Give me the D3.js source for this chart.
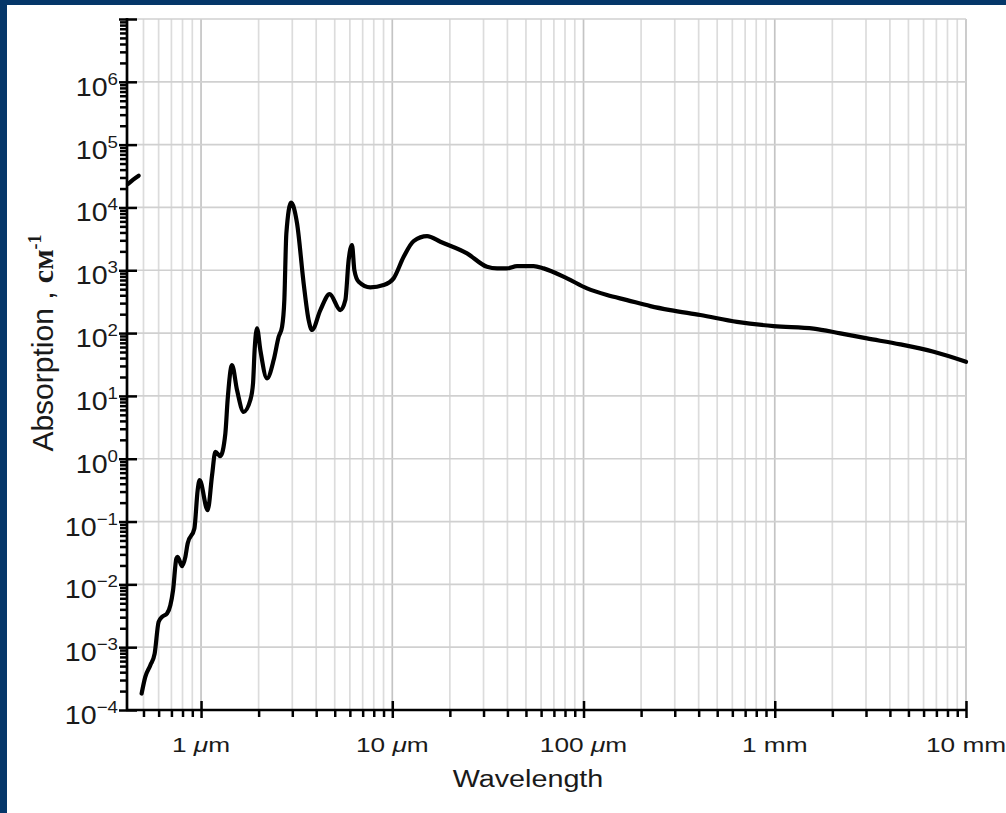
<!DOCTYPE html>
<html>
<head>
<meta charset="utf-8">
<script src="https://cdn.jsdelivr.net/npm/d3@7"></script>
<style>
  html, body { margin: 0; padding: 0; background: #fff; }
  svg { display: block; }
  text { font-family: "Liberation Sans", Arial, sans-serif; fill: #1a1a1a; }
</style>
</head>
<body>
<svg id="chart" width="1006" height="813"></svg>
<script>
// ---- data (wavelength in micrometres, absorption in cm^-1) ----
const wavelength = [0.489,0.511,0.543,0.572,0.600,0.625,0.664,0.691,0.714,0.743,0.754,0.796,0.828,0.851,0.923,0.960,0.983,1.083,1.142,1.188,1.261,1.340,1.377,1.452,1.542,1.670,1.810,1.870,1.906,1.962,2.042,2.213,2.397,2.546,2.652,2.726,2.793,2.956,3.177,3.440,3.653,3.805,4.206,4.704,5.351,5.683,5.913,6.159,6.334,6.671,7.677,9.010,10.16,11.47,12.93,15.20,17.84,24.59,31.29,35.30,39.81,44.91,54.83,61.85,82.0,104.3,132.7,168.9,223.6,284.4,408,635,986,1596,2202,3037,4535,6771,10000];
const absorption = [1.83e-4,3.37e-4,5.16e-4,7.9e-4,2.53e-3,3.03e-3,3.44e-3,4.67e-3,8.1e-3,2.58e-2,2.74e-2,1.95e-2,2.74e-2,4.48e-2,7.76e-2,0.316,0.456,0.152,0.548,1.29,1.10,2.53,8.6,31,12.4,5.58,8.6,15.8,53.6,119,53.6,19.0,37.2,87.3,126,335,3870,11900,5580,618,161,112,232,418,232,335,1452,2518,1007,656,534,581,743,1640,2917,3506,2845,1858,1137,1072,1072,1166,1166,1072,743,515,403,335,269,232,194,151,129,118,98.9,82.3,66.1,50.4,35];
// short UV edge segment at the far left
const uvWavelength = [0.415, 0.44, 0.472];
const uvAbsorption = [2.36e4, 2.75e4, 3.2e4];

const xMajorTicks = [1, 10, 100, 1000, 10000];
const xTickLabels = [["1 ", "\u03bc", "m"], ["10 ", "\u03bc", "m"], ["100 ", "\u03bc", "m"], ["1 mm", "", ""], ["10 mm", "", ""]];
const yExponents = [-4, -3, -2, -1, 0, 1, 2, 3, 4, 5, 6];
const yAxisTitle = "Absorption , ";
const yAxisUnit = "\u0441\u043c";
const xAxisTitle = "Wavelength";

// ---- layout ----
const svg = d3.select("#chart");
const W = 1006, H = 813;
const x = d3.scaleLog().domain([0.41, 10000]).range([127, 966]);
const y = d3.scaleLog().domain([1e-4, 1e7]).range([710, 19]);
const SX = 1.25; // horizontal stretch of the x lettering

svg.append("rect").attr("width", W).attr("height", H).attr("fill", "#053769");
svg.append("rect").attr("x", 7).attr("y", 5).attr("width", W - 7).attr("height", H - 5).attr("fill", "#fff");

// grid values
const xGrid = [];
for (let e = -1; e <= 4; e++) for (let m = 1; m <= 9; m++) {
  const v = m * Math.pow(10, e);
  if (v >= 0.45 && v <= 10000.5) xGrid.push(v);
}
const xMinor = xGrid.filter(v => !xMajorTicks.includes(v));
const yDecades = d3.range(-4, 8).map(e => Math.pow(10, e));
const yMinor = [];
for (let e = -4; e < 7; e++) for (let m = 2; m <= 9; m++) yMinor.push(m * Math.pow(10, e));

const grid = svg.append("g");
grid.selectAll("line.vg").data(xGrid).join("line")
  .attr("x1", d => x(d)).attr("x2", d => x(d))
  .attr("y1", y(1e7)).attr("y2", y(1e-4))
  .attr("stroke", d => xMajorTicks.includes(d) ? "#c4c4c4" : "#dcdcdc")
  .attr("stroke-width", 1.7);
grid.selectAll("line.hg").data(yDecades).join("line")
  .attr("x1", x(0.41)).attr("x2", x(10000))
  .attr("y1", d => y(d)).attr("y2", d => y(d))
  .attr("stroke", "#d0d0d0").attr("stroke-width", 1.7);

// curve
const line = d3.line().x(d => x(d[0])).y(d => y(d[1])).curve(d3.curveMonotoneX);
const mainData = wavelength.map((w, i) => [w, absorption[i]]);
const uvData = uvWavelength.map((w, i) => [w, uvAbsorption[i]]);
svg.append("path").datum(mainData).attr("d", line)
  .attr("fill", "none").attr("stroke", "#000").attr("stroke-width", 4.2)
  .attr("stroke-linejoin", "round").attr("stroke-linecap", "round");
svg.append("path").datum(uvData).attr("d", line)
  .attr("fill", "none").attr("stroke", "#000").attr("stroke-width", 4.2)
  .attr("stroke-linecap", "round");

// axes (ticks only, labels drawn separately)
function styleAxis(g) {
  g.select(".domain").remove();
  g.selectAll(".tick line").attr("stroke", "#000").attr("stroke-width", 2.5);
  g.selectAll(".tick text").remove();
}
const xAxisY = y(1e-4), yAxisX = x(0.41);
svg.append("g").attr("transform", `translate(0,${xAxisY})`)
  .call(d3.axisBottom(x).tickValues(xMinor).tickSize(7).tickFormat("")).call(styleAxis);
svg.append("g").attr("transform", `translate(0,${xAxisY})`)
  .call(d3.axisBottom(x).tickValues(xMajorTicks).tickSize(8).tickFormat("")).call(styleAxis);
svg.append("g").attr("transform", `translate(0,${xAxisY})`)
  .call(d3.axisTop(x).tickValues(xMajorTicks).tickSize(9).tickFormat("")).call(styleAxis);
svg.append("g").attr("transform", `translate(${yAxisX},0)`)
  .call(d3.axisLeft(y).tickValues(yMinor).tickSize(7).tickFormat("")).call(styleAxis);
svg.append("g").attr("transform", `translate(${yAxisX},0)`)
  .call(d3.axisLeft(y).tickValues(yDecades).tickSize(8).tickFormat("")).call(styleAxis);
svg.append("g").attr("transform", `translate(${yAxisX},0)`)
  .call(d3.axisRight(y).tickValues(yDecades).tickSize(10).tickFormat("")).call(styleAxis);

// axis lines
svg.append("line").attr("x1", yAxisX - 1).attr("x2", x(10000) + 1).attr("y1", xAxisY).attr("y2", xAxisY)
  .attr("stroke", "#000").attr("stroke-width", 2.7);
svg.append("line").attr("x1", yAxisX).attr("x2", yAxisX).attr("y1", y(1e7) - 1).attr("y2", xAxisY + 1)
  .attr("stroke", "#000").attr("stroke-width", 2.7);

// y tick labels
const yl = svg.append("g");
yExponents.forEach(e => {
  const t = yl.append("text")
    .attr("transform", `translate(118,${y(Math.pow(10, e)) + 14}) scale(1.1,1)`)
    .attr("text-anchor", "end").attr("font-size", 26);
  t.append("tspan").text("10");
  t.append("tspan").attr("dy", -11).attr("font-size", 17).text(e < 0 ? "\u2212" + (-e) : String(e));
});

// x tick labels
const xl = svg.append("g");
xMajorTicks.forEach((v, i) => {
  const parts = xTickLabels[i];
  const t = xl.append("text")
    .attr("transform", `translate(${x(v)},752) scale(${SX},1)`)
    .attr("text-anchor", "middle").attr("font-size", 21);
  t.append("tspan").text(parts[0]);
  if (parts[1]) t.append("tspan").attr("font-style", "italic").text(parts[1]);
  if (parts[2]) t.append("tspan").text(parts[2]);
});

// axis titles
svg.append("text").attr("transform", `translate(528,787) scale(${SX},1)`)
  .attr("text-anchor", "middle").attr("font-size", 23).text(xAxisTitle);

const yt = svg.append("text").attr("transform", "translate(53,343) rotate(-90)")
  .attr("text-anchor", "middle").attr("font-size", 30);
yt.append("tspan").text(yAxisTitle);
yt.append("tspan").attr("font-family", "'Liberation Serif', 'Times New Roman', serif").attr("font-weight", "bold").text(yAxisUnit);
yt.append("tspan").attr("font-family", "'Liberation Serif', 'Times New Roman', serif").attr("font-weight", "bold")
  .attr("font-size", 18).attr("dy", -12).text("-1");
</script>
</body>
</html>
